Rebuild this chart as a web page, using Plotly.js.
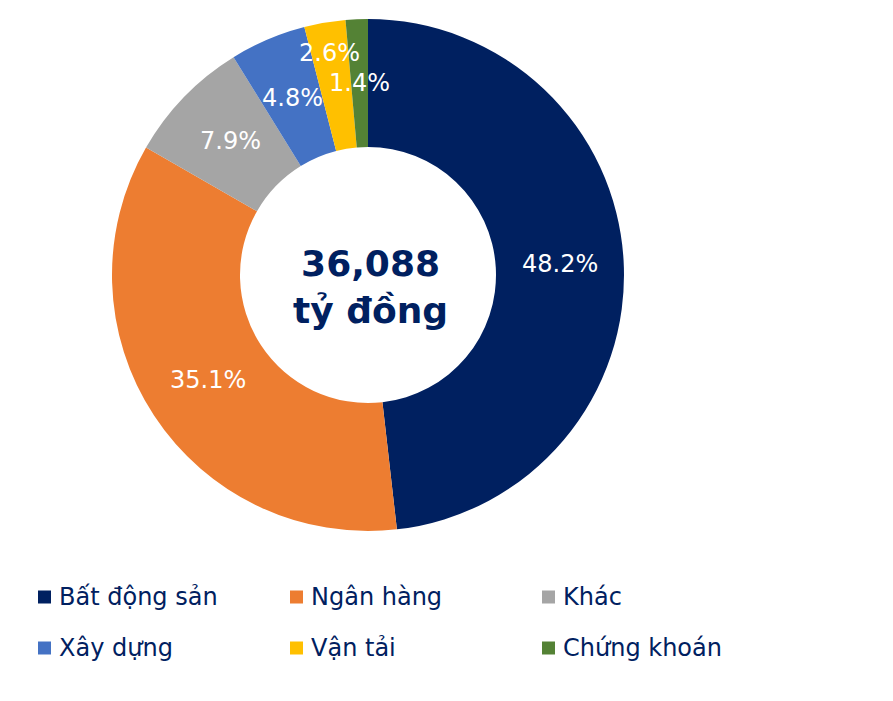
<!DOCTYPE html>
<html>
<head>
<meta charset="utf-8">
<script src="https://cdn.plot.ly/plotly-3.0.1.min.js"></script>
<style>
  html, body { margin: 0; padding: 0; background: #fff; }
  #myPlot { width: 893px; height: 701px; }
</style>
</head>
<body>
<div id="myPlot"></div>
<script>
// data (% of 36,088 tỷ đồng)
const labels = ["Bất động sản", "Ngân hàng", "Khác", "Xây dựng", "Vận tải", "Chứng khoán"];
const shares = [48.2, 35.1, 7.9, 4.8, 2.6, 1.4];
const colors = ["#002060", "#ED7D31", "#A5A5A5", "#4472C4", "#FFC000", "#548235"];
const centerText = ["36,088", "tỷ đồng"];

const W = 893, H = 701;
const font = "DejaVu Sans, Verdana, sans-serif";
const navy = "#002060";

// pie centre and radius in pixels
const cx = 368, cy = 275, R = 256;

const sliceText = shares.map(v => v.toFixed(1) + "%");

const donut = {
  type: "pie",
  labels: labels,
  values: shares,
  textinfo: "none",
  hole: 0.5,
  sort: false,
  direction: "clockwise",
  rotation: 0,
  marker: { colors: colors, line: { width: 0 } },
  domain: { x: [(cx - R) / W, (cx + R) / W], y: [(H - cy - R) / H, (H - cy + R) / H] },
  showlegend: false,
  hoverinfo: "label+percent"
};

const annotations = [];
const shapes = [];

// slice labels at mid angle; plotly pushes the thin ones outward, so place them ourselves
// (the yellow one sits further out in the original)
const total = shares.reduce((a, b) => a + b, 0);
let cum = 0;
shares.forEach((v, i) => {
  const mid = (cum + v / 2) / total * 2 * Math.PI;
  cum += v;
  const r = R * (i === 4 ? 0.88 : 0.75);
  annotations.push({
    xref: "paper", yref: "paper",
    x: (cx + r * Math.sin(mid)) / W, y: 1 - (cy - r * Math.cos(mid)) / H,
    xanchor: "center", yanchor: "middle",
    text: sliceText[i], showarrow: false,
    font: { family: font, size: 24, color: "#ffffff" }
  });
});

// legend drawn by hand: 3 columns x 2 rows
const colX = [38, 290, 542];
const rowY = [597, 648];
labels.forEach((lab, i) => {
  const x = colX[i % 3];
  const y = rowY[Math.floor(i / 3)];
  shapes.push({
    type: "rect", xref: "paper", yref: "paper",
    x0: x / W, x1: (x + 13) / W,
    y0: 1 - (y + 6.5) / H, y1: 1 - (y - 6.5) / H,
    fillcolor: colors[i], line: { width: 0 }
  });
  annotations.push({
    xref: "paper", yref: "paper",
    x: (x + 19) / W, y: 1 - y / H,
    xanchor: "left", yanchor: "middle",
    text: lab, showarrow: false,
    font: { family: font, size: 24, color: navy }
  });
});

// center text
annotations.push({
  xref: "paper", yref: "paper",
  x: 370 / W, y: 1 - 287 / H,
  xanchor: "center", yanchor: "middle",
  text: "<b>" + centerText[0] + "</b><br><b>" + centerText[1] + "</b>",
  showarrow: false,
  font: { family: font, size: 36, color: navy }
});

const layout = {
  width: W,
  height: H,
  margin: { l: 0, r: 0, t: 0, b: 0 },
  paper_bgcolor: "#ffffff",
  annotations: annotations,
  shapes: shapes
};

Plotly.newPlot("myPlot", [donut], layout, { displayModeBar: false, staticPlot: true });
</script>
</body>
</html>
